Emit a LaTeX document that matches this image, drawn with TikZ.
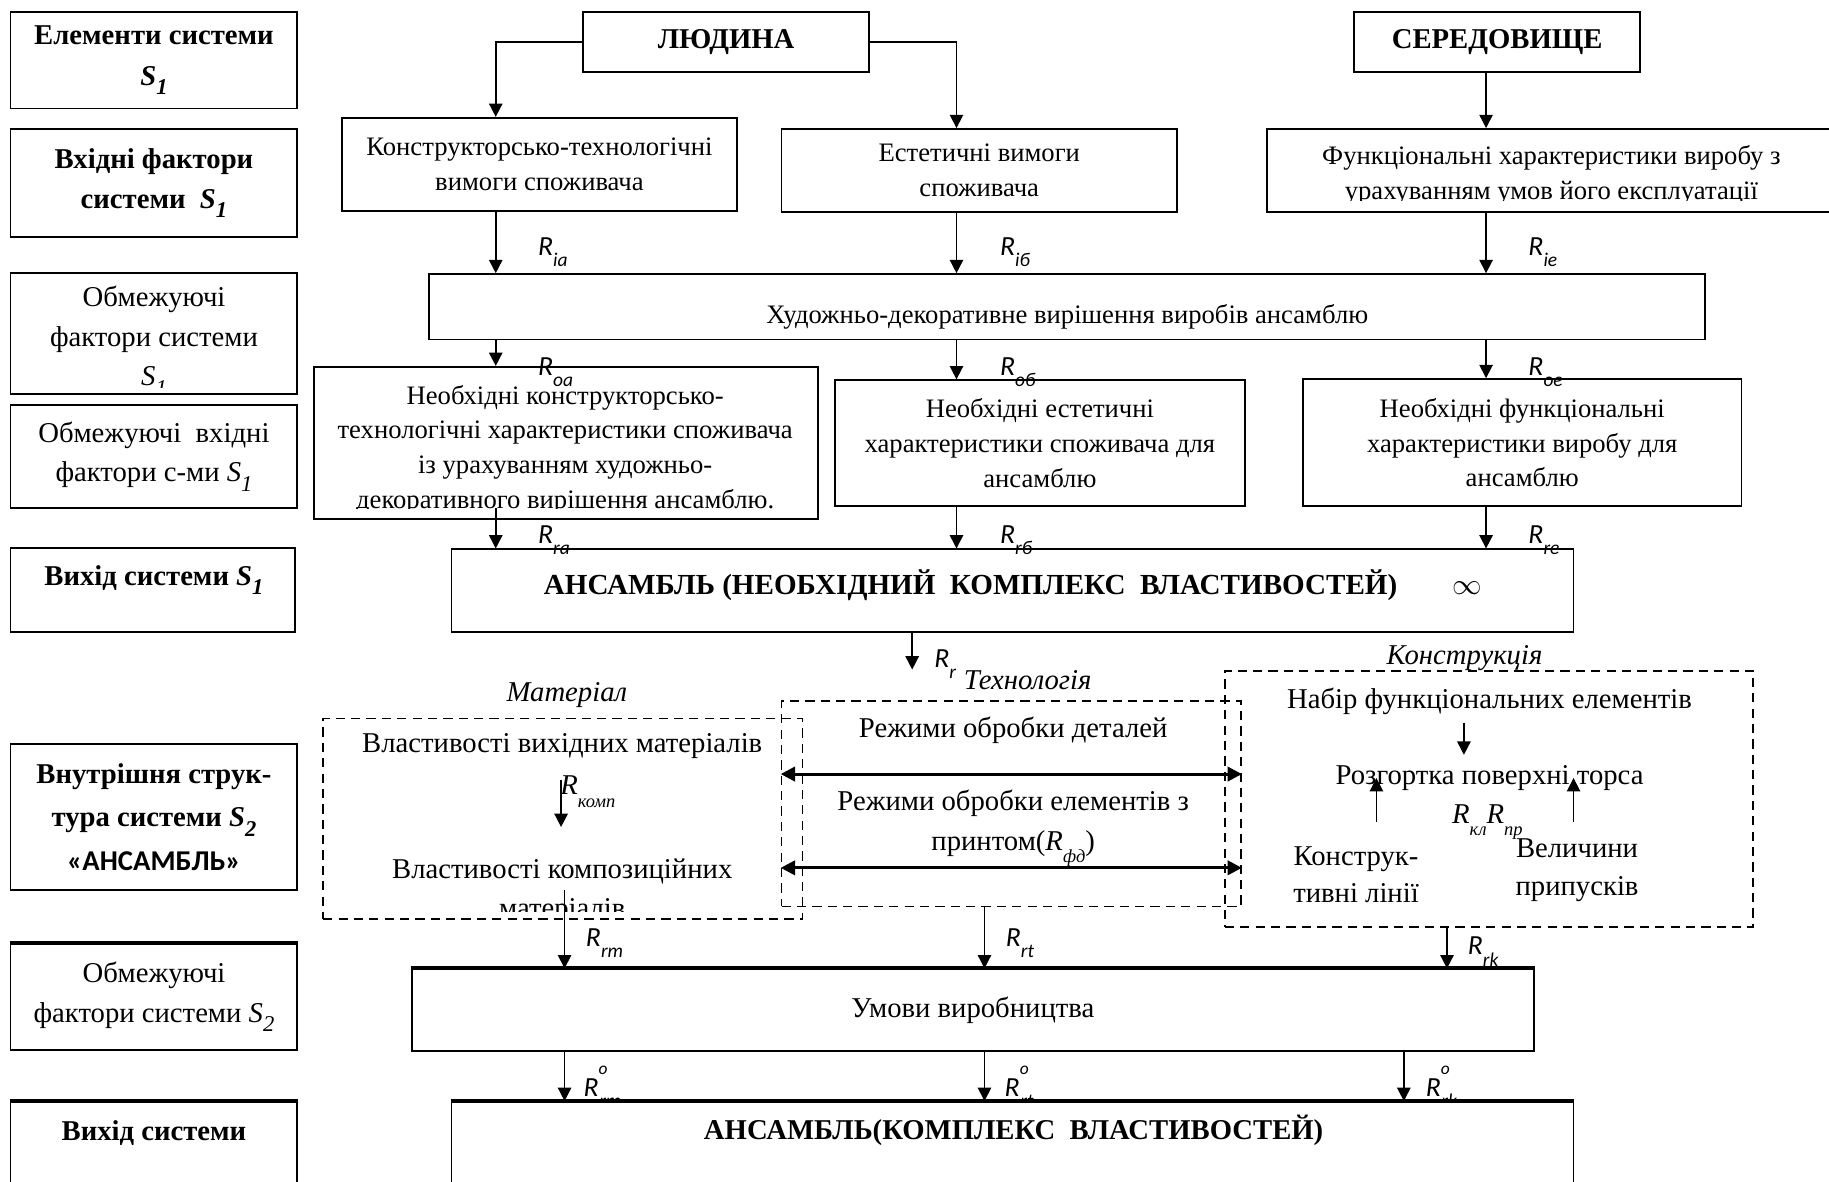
\documentclass[tikz,border=0pt]{standalone}
\usepackage{fontspec}
\setmainfont{Liberation Serif}
\setsansfont{Carlito}
\usetikzlibrary{arrows.meta,positioning}

\newcommand{\Ssub}[1]{\textit{S}\raisebox{-4.5pt}{\fontsize{11}{11}\selectfont\itshape #1}}
\newcommand{\Rsf}[1]{{\sffamily\itshape\fontsize{13.5}{14}\selectfont R\raisebox{-5.4pt}{\fontsize{9.5}{10}\selectfont #1}}}
\newcommand{\Rsup}[2]{{\sffamily\itshape\fontsize{13.5}{14}\selectfont R\raisebox{10.5pt}{\fontsize{8.5}{9}\selectfont #1}\hspace{-0.3em}\raisebox{-5.4pt}{\fontsize{9.5}{10}\selectfont #2}}}
\newcommand{\Rtm}[1]{{\itshape R\raisebox{-6pt}{\fontsize{9}{9}\selectfont #1}}}

\tikzset{
  box/.style={draw, line width=0.9pt, inner sep=0pt, align=center},
  dbox/.style={draw, line width=0.8pt, dash pattern=on 4.5pt off 3pt, inner sep=0pt},
  sz/.style 2 args={minimum width=#1cm, minimum height=#2cm},
  arr/.style={line width=0.8pt, -{Triangle[length=6.5pt,width=6.5pt]}},
  darr/.style={line width=1.5pt, {Triangle[length=7pt,width=7pt]}-{Triangle[length=7pt,width=7pt]}},
  mid/.style={font=\fontsize{13}{17}\selectfont, align=center, inner sep=0pt},
  lbl/.style={font=\fontsize{14}{19.3}\selectfont, align=center, inner sep=0pt},
  head/.style={font=\fontsize{14}{19.3}\selectfont\bfseries, align=center, inner sep=0pt},
  ital/.style={font=\fontsize{14}{17}\selectfont\itshape, inner sep=0pt},
  rlab/.style={inner sep=0pt, anchor=base west},
  topline/.style={line width=2pt},
}

\begin{document}
\begin{tikzpicture}[x=0.02cm, y=-0.02cm]
\useasboundingbox (0,0) rectangle (1568,1013);

% columns of the arrows
\coordinate (colA) at (425,0);
\coordinate (colB) at (820,0);
\coordinate (colC) at (1274,0);
\coordinate (colR) at (782,574);
\coordinate (colM) at (484,0);
\coordinate (colT) at (844,0);
\coordinate (colK) at (1240.5,0);
\coordinate (colK2) at (1203.5,0);
\coordinate (clipA) at (425,435.6);
\coordinate (mtop) at (484,763);
\coordinate (kompA) at (481,669);
\coordinate (kompB) at (481,709);
\coordinate (kdn) at (1255,0);
\coordinate (kup1) at (1180,704.5);
\coordinate (kup2) at (1349,704.5);
\coordinate (dy1) at (0,663.6);
\coordinate (dy2) at (0,744);

% left column
\node[box, head, sz={4.92}{1.66}] (elem) at (132,51.5) {Елементи системи\\[1pt]\Ssub{1}};
\node[box, head, sz={4.92}{1.848}] (vhid) at (132,156.8) {Вхідні фактори\\системи~~\Ssub{1}};
\node[box, sz={4.92}{2.08}] (obm) at (132,286) {};
\begin{scope}
\clip (9,234) rectangle (255,332);
\node[lbl] (obmt) at (132,292) {Обмежуючі\\фактори системи\\\Ssub{1}};
\end{scope}
\node[box, lbl, sz={4.92}{1.772}] (obmv) at (132,391.3) {Обмежуючі~~вхідні\\фактори с-ми \Ssub{1}};
\node[box, sz={4.88}{1.43}] (vyh1) at (131,505.75) {};
\node[head] (vyh1t) at (132,497) {Вихід системи \Ssub{1}};
\node[box, head, font=\fontsize{14}{21}\selectfont\bfseries, sz={4.92}{2.5}] (vnutr) at (132,700.5)
  {Внутрішня струк-\\тура системи \Ssub{2}\\{\sffamily «АНСАМБЛЬ»}};
\node[box, lbl, sz={4.92}{1.81}] (obm2) at (132,854.75) {Обмежуючі\\фактори системи \Ssub{2}};
\node[box, sz={4.92}{1.706}] (vyh2) at (132,987.35) {};
\node[head] (vyh2t) at (132,971.5) {Вихід системи};

% elements and input factors
\node[box, head, sz={4.9}{1.04}] (ljud) at (622.5,36) {ЛЮДИНА};
\node[box, head, sz={4.9}{1.04}] (sered) at (1283.5,36) {СЕРЕДОВИЩЕ};
\node[box, mid, sz={6.78}{1.6}] (konstr) at (462.5,141) {Конструкторсько-технологічні\\вимоги споживача};
\node[box, mid, sz={6.78}{1.418}] (estet) at (839.5,146.05) {Естетичні вимоги\\споживача};
\node[box, sz={9.78}{1.418}] (funk) at (1330.5,146.05) {};
\begin{scope}
\clip (1086,110.6) rectangle (1575,172);
\node[mid] (funkt) at (1330,150.6) {Функціональні характеристики виробу з\\урахуванням умов його експлуатації};
\end{scope}

% restricting factors
\node[box, sz={21.88}{1.12}] (hud) at (915,263) {};
\node[mid] (hudt) at (915,271.5) {Художньо-декоративне вирішення виробів ансамблю};
\node[box, sz={8.64}{2.61}] (neobk) at (485,379.75) {};
\begin{scope}
\clip (269,314.5) rectangle (701,435.6);
\node[mid] (neobkt) at (484.5,385.5) {Необхідні конструкторсько-\\технологічні характеристики споживача\\із урахуванням художньо-\\декоративного вирішення ансамблю.};
\end{scope}
\node[box, mid, sz={7.02}{2.16}] (neobe) at (891.5,380) {Необхідні естетичні\\характеристики споживача для\\ансамблю};
\node[box, mid, sz={7.52}{2.18}] (neobf) at (1305,379.5) {Необхідні функціональні\\характеристики виробу для\\ансамблю};
\node[box, sz={19.24}{1.42}] (ans) at (868,506.5) {};
\node[head, font=\fontsize{14.2}{19.3}\selectfont\bfseries] (anst) at (868.5,501.5) {АНСАМБЛЬ (НЕОБХІДНИЙ~~КОМПЛЕКС~~ВЛАСТИВОСТЕЙ)\hspace{0.95cm}{\mdseries$\infty$}};

% inner structure
\node[dbox, sz={8.22}{3.44}] (mat) at (482.5,702) {};
\node[dbox, sz={7.88}{3.52}] (tech) at (867,689) {};
\node[dbox, sz={9.06}{4.4}] (kon) at (1276.5,685) {};
\node[ital] (matl) at (486,596) {Матеріал};
\node[ital] (techl) at (881,583) {Технологія};
\node[ital] (konl) at (1255.5,564) {Конструкція};

\node[lbl] (mata) at (482,640) {Властивості вихідних матеріалів};
\node[lbl, rlab] (rkomp) at (480,681.5) {\Rtm{комп}};
\begin{scope}
\clip (277,616) rectangle (688,781);
\node[lbl] (matb) at (482,764) {Властивості композиційних\\матеріалів};
\end{scope}

\node[lbl] (rezh1) at (868.6,625.7) {Режими обробки деталей};
\node[lbl] (rezh2) at (868.6,710) {Режими обробки елементів з\\принтом(\Rtm{фд})};

\node[lbl] (nabir) at (1277,601.5) {Набір функціональних елементів};
\node[lbl] (rozg) at (1277,667) {Розгортка поверхні торса};
\node[lbl, rlab] (rklpr) at (1244.5,706) {\Rtm{кл}\Rtm{пр}};
\node[lbl, font=\fontsize{14}{17.8}\selectfont] (klin) at (1162.5,750) {Конструк-\\тивні лінії};
\node[lbl, font=\fontsize{14}{18.4}\selectfont] (vel) at (1352,746) {Величини\\припусків};

% production
\node[box, lbl, sz={19.24}{1.4}] (umovy) at (834,866) {Умови виробництва};

% labels of the links
\node[rlab] (ria) at (461,219) {\Rsf{ia}};
\node[rlab] (rib) at (857,219) {\Rsf{iб}};
\node[rlab] (rie) at (1310,219) {\Rsf{ie}};
\node[rlab] (roa) at (461,321.5) {\Rsf{oa}};
\node[rlab] (rob) at (857,321.5) {\Rsf{oб}};
\node[rlab] (roe) at (1310,321.5) {\Rsf{oe}};
\node[rlab] (rra) at (461,465.7) {\Rsf{ra}};
\node[rlab] (rrb) at (857,465.7) {\Rsf{rб}};
\node[rlab] (rre) at (1310,465.7) {\Rsf{re}};
\node[rlab] (rr) at (800.7,572.6) {\Rsf{r}};
\node[rlab] (rrm) at (502,811.6) {\Rsf{rm}};
\node[rlab] (rrt) at (862,811.6) {\Rsf{rt}};
\node[rlab] (rrk) at (1258,818.7) {\Rsf{rk}};
\node[rlab] (rom) at (500,940) {\Rsup{o}{rm}};
\node[rlab] (rot) at (861,940) {\Rsup{o}{rt}};
\node[rlab] (rok) at (1222,940) {\Rsup{o}{rk}};

% output
\node[box, fill=white, sz={19.24}{1.706}] (ans2) at (868,987.35) {};
\node[head] (ans2t) at (869,968.7) {АНСАМБЛЬ(КОМПЛЕКС~~ВЛАСТИВОСТЕЙ)};

\draw[topline] (obm2.north west) -- (obm2.north east);
\draw[topline] (umovy.north west) -- (umovy.north east);
\draw[topline] (vyh2.north west) -- (vyh2.north east);
\draw[topline] (ans2.north west) -- (ans2.north east);

% links
\draw[arr] (ljud.west) -| (konstr.north -| colA);
\draw[arr] (ljud.east) -| (estet.north -| colB);
\draw[arr] (sered.south -| colC) -- (funk.north -| colC);
\draw[arr] (konstr.south -| colA) -- (hud.north -| colA);
\draw[arr] (estet.south -| colB) -- (hud.north -| colB);
\draw[arr] (funk.south -| colC) -- (hud.north -| colC);
\draw[arr] (hud.south -| colA) -- (neobk.north -| colA);
\draw[arr] (hud.south -| colB) -- (neobe.north -| colB);
\draw[arr] (hud.south -| colC) -- (neobf.north -| colC);
\draw[arr] (clipA) -- (ans.north -| colA);
\draw[arr] (neobe.south -| colB) -- (ans.north -| colB);
\draw[arr] (neobf.south -| colC) -- (ans.north -| colC);
\draw[arr] (ans.south -| colR) -- (colR);

\draw[arr] (kompA) -- (kompB);
\draw[darr] (tech.west |- dy1) -- (tech.east |- dy1);
\draw[darr] (tech.west |- dy2) -- (tech.east |- dy2);
\draw[arr, shorten <=3.5pt, shorten >=5pt] (nabir.south -| kdn) -- (rozg.north -| kdn);
\draw[arr] (kup1) -- (kup1 |- rozg.center);
\draw[arr] (kup2) -- (kup2 |- rozg.center);

\draw[arr] (mtop) -- (umovy.north -| mtop);
\draw[arr] (tech.south -| colT) -- (umovy.north -| colT);
\draw[arr] (kon.south -| colK) -- (umovy.north -| colK);
\draw[arr] (umovy.south -| colM) -- (ans2.north -| colM);
\draw[arr] (umovy.south -| colT) -- (ans2.north -| colT);
\draw[arr] (umovy.south -| colK2) -- (ans2.north -| colK2);
\end{tikzpicture}
\end{document}
